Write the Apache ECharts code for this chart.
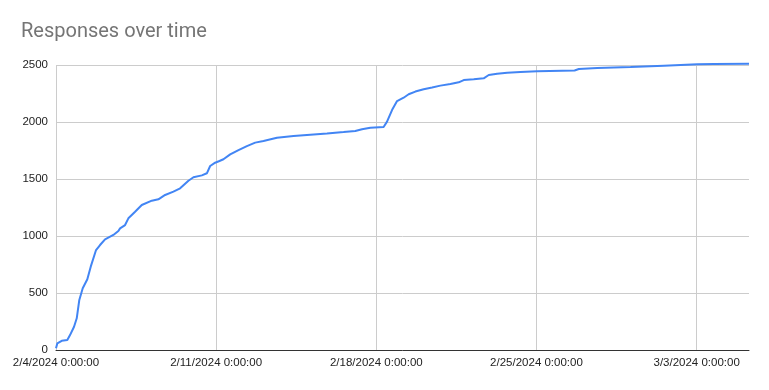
<!DOCTYPE html>
<html>
<head>
<meta charset="utf-8">
<script src="https://cdn.jsdelivr.net/npm/echarts@6/dist/echarts.min.js"></script>
<style>
  html, body { margin: 0; padding: 0; background: #fff; }
  #chart { width: 769px; height: 390px; }
</style>
</head>
<body>
<div id="chart"></div>
<script>
// Timestamps (UTC) of readings and cumulative responses
const times = [
  "2024-02-04T00:00", "2024-02-04T01:22", "2024-02-04T06:00", "2024-02-04T11:51",
  "2024-02-04T14:43", "2024-02-04T18:55", "2024-02-04T21:45", "2024-02-05T00:27",
  "2024-02-05T04:02", "2024-02-05T08:51", "2024-02-05T12:26", "2024-02-05T18:00",
  "2024-02-05T22:12", "2024-02-06T03:27", "2024-02-06T12:10", "2024-02-06T17:25",
  "2024-02-06T19:12", "2024-02-07T00:27", "2024-02-07T03:55", "2024-02-07T10:57",
  "2024-02-07T17:58", "2024-02-08T04:29", "2024-02-08T11:25", "2024-02-08T18:27",
  "2024-02-09T03:10", "2024-02-09T10:12", "2024-02-09T18:55", "2024-02-10T00:10",
  "2024-02-10T08:59", "2024-02-10T14:14", "2024-02-10T17:43", "2024-02-10T22:57",
  "2024-02-11T03:27", "2024-02-11T07:39", "2024-02-11T14:43", "2024-02-11T23:25",
  "2024-02-12T08:14", "2024-02-12T16:57", "2024-02-13T01:39", "2024-02-13T15:45",
  "2024-02-14T09:10", "2024-02-15T02:43", "2024-02-15T20:14", "2024-02-16T13:39",
  "2024-02-17T01:57", "2024-02-17T08:59", "2024-02-17T17:43", "2024-02-18T07:39",
  "2024-02-18T11:14", "2024-02-18T16:29", "2024-02-18T21:45", "2024-02-19T04:39",
  "2024-02-19T09:55", "2024-02-19T16:57", "2024-02-20T01:39", "2024-02-20T10:29",
  "2024-02-20T19:12", "2024-02-21T05:43", "2024-02-21T14:25", "2024-02-21T19:41",
  "2024-02-22T06:10", "2024-02-22T16:39", "2024-02-22T21:55", "2024-02-23T06:45",
  "2024-02-23T17:15", "2024-02-24T07:12", "2024-02-25T00:45", "2024-02-26T16:00",
  "2024-02-26T20:25", "2024-02-27T15:45", "2024-02-29T02:43", "2024-03-01T13:39",
  "2024-03-02T07:12", "2024-03-03T00:45", "2024-03-03T18:09", "2024-03-05T06:55"
];
const responses = [
  15, 58, 81, 88,
  131, 204, 278, 439,
  541, 620, 731, 877,
  921, 971, 1009, 1044,
  1067, 1096, 1155, 1213,
  1272, 1310, 1322, 1360,
  1389, 1418, 1485, 1515,
  1532, 1550, 1614, 1643,
  1658, 1673, 1716, 1754,
  1789, 1819, 1833, 1862,
  1877, 1889, 1900, 1912,
  1921, 1936, 1950, 1956,
  2003, 2105, 2184, 2213,
  2243, 2267, 2287, 2302,
  2319, 2333, 2348, 2368,
  2374, 2383, 2412, 2424,
  2433, 2439, 2445, 2452,
  2465, 2474, 2482, 2494,
  2500, 2506, 2509, 2512
];
const xStart = "2024-02-04T00:00";
const yTicks = [0, 500, 1000, 1500, 2000, 2500];

const DAY = 86400000;
function toMs(s) {
  const [d, t] = s.split("T");
  const [Y, M, D] = d.split("-").map(Number);
  const [h, m] = t.split(":").map(Number);
  return Date.UTC(Y, M - 1, D, h, m);
}
const xs = times.map(toMs);
const data = xs.map((x, i) => [x, responses[i]]);
function fmt(v) {
  const d = new Date(v);
  return (d.getUTCMonth() + 1) + "/" + d.getUTCDate() + "/" + d.getUTCFullYear() + " 0:00:00";
}

const chart = echarts.init(document.getElementById("chart"));
chart.setOption({
  backgroundColor: "#ffffff",
  animation: false,
  title: {
    text: "Responses over time",
    left: 16,
    top: 17,
    textStyle: { fontFamily: "Roboto", fontSize: 20, fontWeight: "normal", color: "#757575" }
  },
  grid: { left: 56, right: 20, top: 65, bottom: 40, containLabel: false },
  xAxis: {
    type: "value",
    min: toMs(xStart),
    max: xs[xs.length - 1],
    interval: 7 * DAY,
    axisLine: { show: true, lineStyle: { color: "#333333", width: 1 } },
    axisTick: { show: false },
    splitLine: { show: true, showMaxLine: false, lineStyle: { color: "#cccccc", width: 1 } },
    axisLabel: {
      showMaxLabel: false,
      formatter: fmt,
      fontFamily: "Liberation Sans, Arial",
      fontSize: 11.5,
      color: "#222222",
      margin: 7
    }
  },
  yAxis: {
    type: "value",
    min: yTicks[0],
    max: yTicks[yTicks.length - 1],
    interval: 500,
    axisLine: { show: false },
    axisTick: { show: false },
    splitLine: { show: true, lineStyle: { color: "#cccccc", width: 1 } },
    axisLabel: {
      formatter: (v) => String(v),
      fontFamily: "Liberation Sans, Arial",
      fontSize: 11.5,
      color: "#222222",
      margin: 8
    }
  },
  series: [{
    type: "line",
    data: data,
    showSymbol: false,
    clip: false,
    lineStyle: { color: "#4285F4", width: 2 },
    itemStyle: { color: "#4285F4" }
  }]
});
</script>
</body>
</html>
